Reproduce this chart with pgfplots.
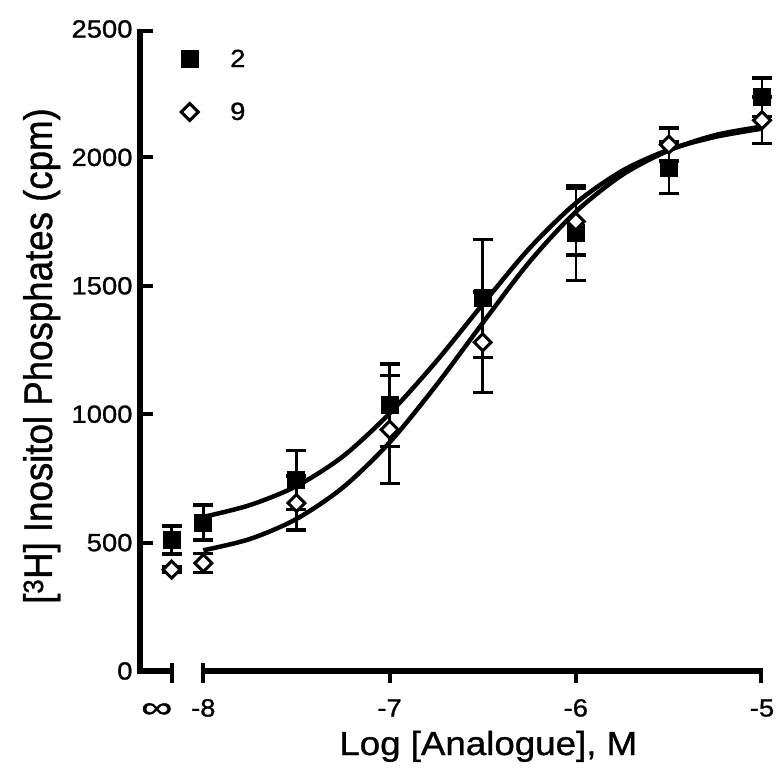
\documentclass[border=0pt]{standalone}
\usepackage{fontspec}
\setmainfont{Liberation Sans}[FakeStretch=1.1, FakeBold=1]
\newfontfamily\ylabfont{Liberation Sans}[FakeStretch=0.92, FakeBold=1]
\usepackage{graphicx}
\usepackage{pgfplots}
\usepackage{pgfplotstable}
\pgfplotsset{compat=1.18}

\pgfplotstableread{
x y e
-8.17 510 55
-8 578 68
-7.5 743 115
-7 1035 160
-6.5 1451 230
-6 1705 185
-5.5 1960 100
-5 2235 75
}\seriesA

\pgfplotstableread{
x y e
-8.17 395 10
-8 420 37
-7.5 654 105
-7 940 210
-6.5 1280 195
-6 1750 130
-5.5 2050 65
-5 2145 90
}\seriesB

\begin{document}
\begin{tikzpicture}
\path[use as bounding box] (-140bp,-102bp) rectangle (638bp,671bp);
\begin{axis}[
  at={(0,0)}, anchor=south west,
  scale only axis, width=622bp, height=642bp,
  xmin=-8.34, xmax=-5, ymin=0, ymax=2500,
  clip=false,
  axis x line*=bottom, axis y line*=left,
  axis line style={draw=none},
  major tick style={draw=none}, minor tick num=0,
  xtick={-8.25,-8,-7,-6,-5},
  xticklabels={\raisebox{-1bp}{\scalebox{1.6}[1.2]{∞}},-8,-7,-6,-5},
  ytick={0,500,1000,1500,2000,2500},
  yticklabels={0,500,1000,1500,2000,2500},
  tick label style={font=\fontsize{25}{25}\selectfont},
  xticklabel style={text height=18bp, text depth=0bp, yshift=-24bp},
  yticklabel style={xshift=-4bp},
  xlabel={Log [Analogue], M},
  ylabel={[\textsuperscript{3}H] Inositol Phosphates (cpm)},
  every axis x label/.style={at={(axis description cs:0.56,0)}, anchor=base, yshift=-84bp, font=\fontsize{33.5}{33.5}\selectfont},
  every axis y label/.style={at={(axis description cs:0,0.5)}, rotate=90, anchor=base, yshift=88bp, xshift=-6bp, font=\ylabfont\fontsize{40}{40}\selectfont},
  legend style={at={(axis cs:-8.12,2428)}, anchor=north west, draw=none, fill=none, inner sep=0pt,
    font=\fontsize{25}{25}\selectfont, row sep=30bp,
    /tikz/every odd column/.append style={column sep=30bp}},
  legend cell align=left,
]
% fitted curves
\addplot[line width=4.5bp, smooth, forget plot] coordinates {
(-8,600) (-7.75,646) (-7.5,720) (-7.25,836) (-7,1003) (-6.75,1205) (-6.5,1428)
(-6.25,1645) (-6,1822) (-5.75,1948) (-5.5,2030) (-5.25,2080) (-5,2112)};
\addplot[line width=4.5bp, smooth, forget plot] coordinates {
(-8,470) (-7.75,514) (-7.5,592) (-7.25,715) (-7,890) (-6.75,1112) (-6.5,1355)
(-6.25,1592) (-6,1788) (-5.75,1932) (-5.5,2027) (-5.25,2087) (-5,2120)};
% data
\addplot[only marks, mark=square*, mark size=8.5bp, mark options={fill=black, line width=1bp},
  error bars/.cd, y dir=both, y explicit,
  error bar style={line width=2.5bp},
  error mark options={rotate=90, line width=3.5bp, mark size=10bp}]
  table[x=x, y=y, y error=e] {\seriesA};
\addlegendentry{2}
\addplot[only marks, mark=square*, mark size=6bp, mark options={rotate=45, fill=white, line width=3bp},
  error bars/.cd, y dir=both, y explicit,
  error bar style={line width=2.5bp},
  error mark options={rotate=90, line width=3.5bp, mark size=10bp}]
  table[x=x, y=y, y error=e] {\seriesB};
\addlegendentry{9}
% axis lines and ticks
\draw[line width=5.5bp, line join=miter] (axis cs:-8.34,2500) -- (axis cs:-8.34,0) -- (axis cs:-8.17,0);
\draw[line width=4bp] ([yshift=8bp]axis cs:-8.17,0) -- ([yshift=-12bp]axis cs:-8.17,0);
\draw[line width=5.5bp] (axis cs:-8,0) -- (axis cs:-5,0);
\draw[line width=4bp] ([yshift=8bp]axis cs:-8,0) -- ([yshift=-12bp]axis cs:-8,0);
\draw[line width=4bp] (axis cs:-7,0) -- ([yshift=-12bp]axis cs:-7,0);
\draw[line width=4bp] (axis cs:-6,0) -- ([yshift=-12bp]axis cs:-6,0);
\draw[line width=4bp] ([xshift=-0.75bp,yshift=2.75bp]axis cs:-5,0) -- ([xshift=-0.75bp,yshift=-12bp]axis cs:-5,0);
\draw[line width=4bp] (axis cs:-8.34,500) -- ([xshift=13bp]axis cs:-8.34,500);
\draw[line width=4bp] (axis cs:-8.34,1000) -- ([xshift=13bp]axis cs:-8.34,1000);
\draw[line width=4bp] (axis cs:-8.34,1500) -- ([xshift=13bp]axis cs:-8.34,1500);
\draw[line width=4bp] (axis cs:-8.34,2000) -- ([xshift=13bp]axis cs:-8.34,2000);
\draw[line width=4bp] ([yshift=-2bp]axis cs:-8.34,2500) -- ([xshift=13bp,yshift=-2bp]axis cs:-8.34,2500);
\end{axis}
\end{tikzpicture}
\end{document}
